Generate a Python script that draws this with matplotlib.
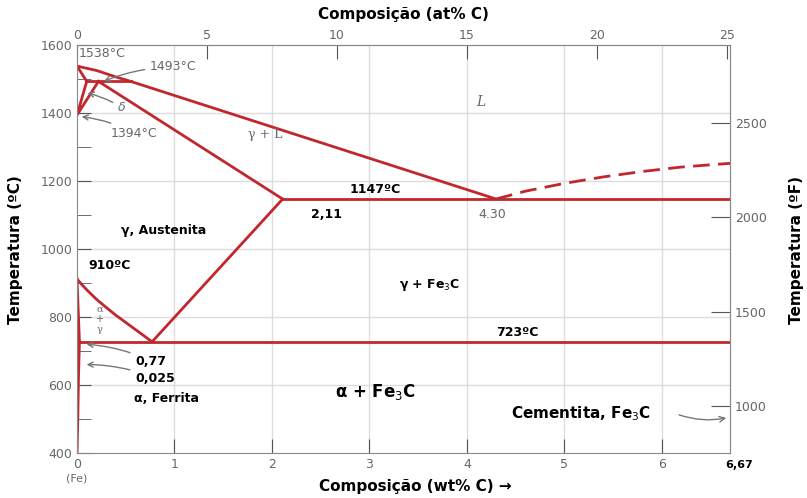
import numpy as np
import matplotlib
matplotlib.use("Agg")
import matplotlib.pyplot as plt

# phase boundary points (wt% C, degC)
liquidus_wt = [0.0, 0.2, 0.4, 0.55, 4.30]
liquidus_T = [1538, 1525, 1506, 1493, 1147]
delta_sol_wt = [0.0, 0.10]
delta_sol_T = [1538, 1493]
peritectic_wt = [0.10, 0.55]
peritectic_T = [1493, 1493]
delta_low_wt = [0.10, 0.0, 0.22]
delta_low_T = [1493, 1394, 1493]
gamma_sol_wt = [0.22, 2.11]
gamma_sol_T = [1493, 1147]
eutectic_wt = [2.11, 6.70]
eutectic_T = [1147, 1147]
acm_wt = [2.11, 0.77]
acm_T = [1147, 727]
a3_wt = [0.0, 0.05, 0.1, 0.2, 0.3, 0.4, 0.5, 0.6, 0.7, 0.77]
a3_T = [912, 895, 880, 852, 828, 805, 784, 763, 742, 727]
alpha_wt = [0.0, 0.025]
alpha_T = [912, 727]
eutectoid_wt = [0.025, 6.70]
eutectoid_T = [727, 727]
solvus_wt = [0.025, 0.015, 0.008, 0.0]
solvus_T = [727, 620, 500, 400]
dashed_wt = [4.30, 4.6, 5.0, 5.4, 5.8, 6.2, 6.70]
dashed_T = [1147, 1170, 1193, 1212, 1228, 1241, 1252]

red = "#c1272d"
gray = "#666666"

fig = plt.figure(figsize=(8.07, 4.98), dpi=100)
ax = fig.add_axes([77/807, 1-453/498, 653/807, 408/498])
ax.set_xlim(0, 6.7)
ax.set_ylim(400, 1600)

for v in [1, 2, 3, 4, 5, 6]:
    ax.axvline(v, color="#dddddd", lw=1, zorder=0)
for h in [600, 800, 1000, 1200, 1400]:
    ax.axhline(h, color="#dddddd", lw=1, zorder=0)

lines = [(liquidus_wt, liquidus_T), (delta_sol_wt, delta_sol_T),
         (peritectic_wt, peritectic_T), (delta_low_wt, delta_low_T),
         (gamma_sol_wt, gamma_sol_T), (eutectic_wt, eutectic_T),
         (acm_wt, acm_T), (a3_wt, a3_T), (alpha_wt, alpha_T),
         (eutectoid_wt, eutectoid_T), (solvus_wt, solvus_T)]
for xs, ys in lines:
    ax.plot(xs, ys, color=red, lw=2)
ax.plot(dashed_wt, dashed_T, color=red, lw=2, ls=(0, (6, 3)))

for s in ax.spines.values():
    s.set_color("#888888")
ax.set_xticks([0, 1, 2, 3, 4, 5, 6])
ax.set_yticks([400, 600, 800, 1000, 1200, 1400, 1600])
ax.set_yticks([500, 700, 900, 1100, 1300, 1500], minor=True)
ax.tick_params(axis="both", direction="in", length=10, color="#555555",
               labelcolor=gray, labelsize=9)
ax.tick_params(axis="y", which="minor", direction="in", length=10, color="#555555")
fig.text(415/807, 1-486/498, "Composição (wt% C) →", fontsize=11, fontweight="bold",
         ha="center", va="center")
fig.text(16/807, 1-250/498, "Temperatura (ºC)", fontsize=11, fontweight="bold",
         ha="center", va="center", rotation=90)

top = ax.secondary_xaxis("top", functions=(lambda w: w*25/6.67, lambda a: a*6.67/25))
top.set_xticks([0, 5, 10, 15, 20, 25])
top.tick_params(direction="in", length=10, color="#555555", labelcolor=gray, labelsize=9, pad=2)
top.spines["top"].set_color("#888888")
fig.text(403/807, 1-15/498, "Composição (at% C)", fontsize=11, fontweight="bold",
         ha="center", va="center")

right = ax.secondary_yaxis("right", functions=(lambda c: c*1.8+32, lambda f: (f-32)/1.8))
right.set_yticks([1000, 1500, 2000, 2500])
right.tick_params(direction="in", length=14, color="#555555", labelcolor=gray, labelsize=9)
right.spines["right"].set_color("#888888")
fig.text(796/807, 1-250/498, "Temperatura (ºF)", fontsize=11, fontweight="bold",
         ha="center", va="center", rotation=90)

g = dict(color=gray, fontsize=9)
b = dict(color="black", fontsize=9, fontweight="bold")
arr = dict(arrowstyle="->", color="#777777", lw=1, connectionstyle="arc3,rad=0.1")

ax.text(0.02, 1565, "1538°C", **g)
ax.annotate("1493°C", xy=(0.25, 1490), xytext=(0.75, 1525), arrowprops=arr, **g)
ax.annotate("δ", xy=(0.08, 1460), xytext=(0.42, 1405), arrowprops=arr,
            color=gray, fontsize=9, style="italic")
ax.annotate("1394°C", xy=(0.02, 1390), xytext=(0.35, 1330), arrowprops=arr, **g)
ax.text(4.1, 1420, "L", color=gray, fontsize=10, style="italic", family="serif")
ax.text(1.75, 1325, "γ + L", color=gray, fontsize=9, family="serif")
ax.text(2.8, 1165, "1147ºC", **b)
ax.text(2.4, 1090, "2,11", **b)
ax.text(4.12, 1090, "4.30", **g)
ax.text(0.45, 1045, "γ, Austenita", **b)
ax.text(0.12, 940, "910ºC", **b)
ax.text(3.3, 885, "γ + Fe$_3$C", **b)
ax.text(0.23, 815, "α", color=gray, fontsize=7, family="serif", ha="center")
ax.text(0.23, 785, "+", color=gray, fontsize=7, ha="center")
ax.text(0.23, 755, "γ", color=gray, fontsize=7, family="serif", ha="center")
ax.text(4.3, 745, "723ºC", **b)
ax.annotate("0,77", xy=(0.07, 720), xytext=(0.6, 660), arrowprops=arr, **b)
ax.annotate("0,025", xy=(0.07, 660), xytext=(0.6, 610), arrowprops=arr, **b)
ax.text(0.58, 550, "α, Ferrita", **b)
ax.text(2.65, 565, "α + Fe$_3$C", color="black", fontsize=12, fontweight="bold")
ax.text(4.45, 515, "Cementita, Fe$_3$C", color="black", fontsize=11,
        fontweight="bold", va="center")
ax.annotate("", xy=(6.69, 505), xytext=(6.15, 515),
            arrowprops=dict(arrowstyle="->", color="#777777", lw=1,
                            connectionstyle="arc3,rad=0.15"))
ax.text(6.65, 380, "6,67", color="black", fontsize=8, fontweight="bold",
        va="top", ha="left")
ax.text(0.0, 340, "(Fe)", color=gray, fontsize=8, va="top", ha="center")

fig.savefig("out.png", dpi=100)
